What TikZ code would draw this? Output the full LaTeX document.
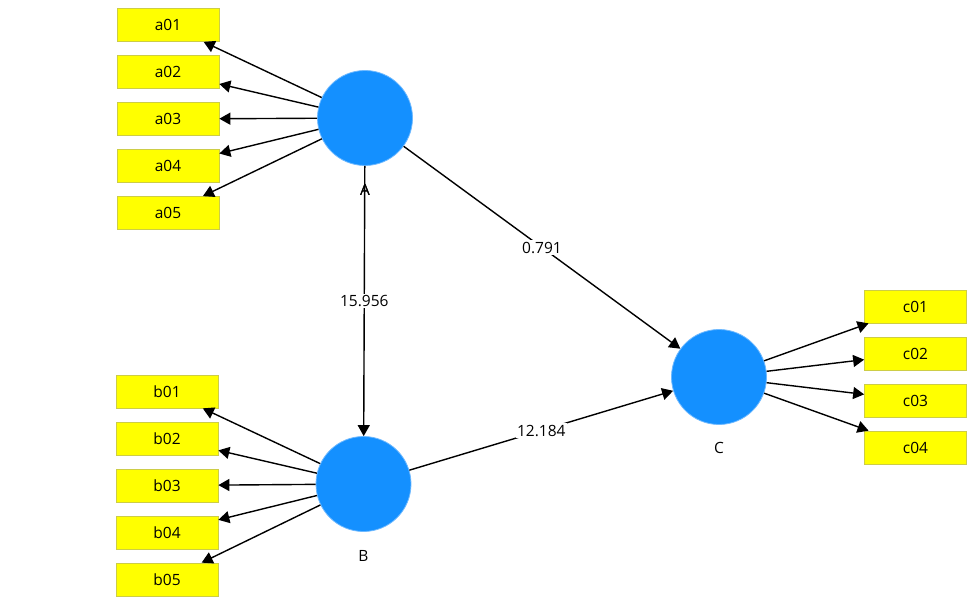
\documentclass[tikz,border=0pt]{standalone}
\usepackage{fontspec}
\setmainfont{Open Sans}
\usetikzlibrary{arrows.meta}
\definecolor{lvblue}{RGB}{20,144,255}
\definecolor{lvedge}{RGB}{110,185,255}
\definecolor{indyellow}{RGB}{255,255,0}
\definecolor{indborder}{RGB}{205,205,70}
\begin{document}
\begin{tikzpicture}[x=1pt,y=-1pt,
  font=\fontsize{15.5}{18}\selectfont,
  latent/.style={circle, fill=lvblue, draw=lvedge, line width=0.8pt, minimum size=95pt, inner sep=0pt},
  ind/.style={rectangle, fill=indyellow, draw=indborder, line width=0.7pt, minimum width=102pt, minimum height=33pt, inner sep=0pt},
  link/.style={-{Triangle[width=12pt,length=11pt]}, line width=1.4pt, black},
  wlabel/.style={fill=white, inner sep=1.5pt},
  lvname/.style={inner sep=0pt}]
\useasboundingbox (0,0) rectangle (975,604);
% latent variables
\node[latent] (A) at (365,118) {};
\node[latent] (B) at (363.5,484) {};
\node[latent] (C) at (719,377) {};
\node[lvname] (Alab) at (365,190) {A};
\node[lvname] (Blab) at (363.5,556) {B};
\node[lvname] (Clab) at (719,448) {C};
% indicators A
\node[ind] (a01) at (168,25) {a01};
\node[ind] (a02) at (168,72) {a02};
\node[ind] (a03) at (168,119) {a03};
\node[ind] (a04) at (168,166) {a04};
\node[ind] (a05) at (168,213) {a05};
% indicators B
\node[ind] (b01) at (167,391.5) {b01};
\node[ind] (b02) at (167,438.5) {b02};
\node[ind] (b03) at (167,485.5) {b03};
\node[ind] (b04) at (167,532.5) {b04};
\node[ind] (b05) at (167,579.5) {b05};
% indicators C
\node[ind] (c01) at (915.5,306.5) {c01};
\node[ind] (c02) at (915.5,353.5) {c02};
\node[ind] (c03) at (915.5,400.5) {c03};
\node[ind] (c04) at (915.5,447.5) {c04};
% outer model
\foreach \i in {01,02,03,04,05} {
  \draw[link] (A) -- (a\i);
  \draw[link] (B) -- (b\i);
}
\foreach \i in {01,02,03,04} {
  \draw[link] (C) -- (c\i);
}
% inner model
\draw[link] (A) -- node[wlabel] {0.791} (C);
\draw[link] (B) -- node[wlabel] {12.184} (C);
\draw[link] (A) -- node[wlabel] {15.956} (B);
% redraw name label A over the line
\node[lvname] at (Alab) {A};
\end{tikzpicture}
\end{document}
